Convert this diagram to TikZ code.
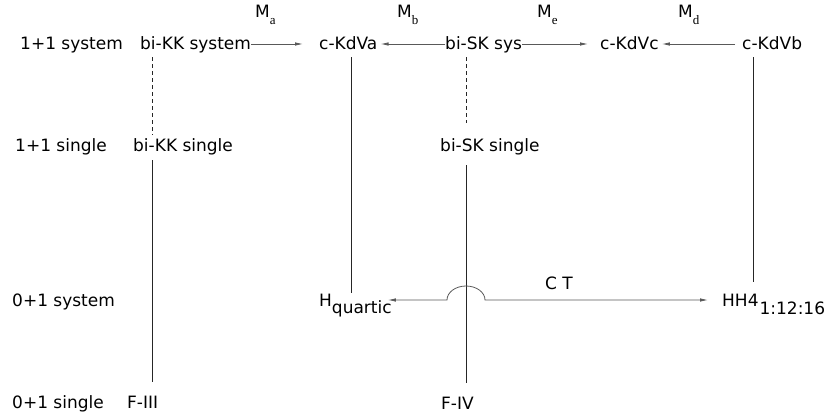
\documentclass[tikz,border=0pt]{standalone}
\usepackage{fontspec}
\setmainfont{DejaVu Sans}
\newfontfamily\subserif{Liberation Serif}
\usetikzlibrary{arrows.meta}
\begin{document}
\begin{tikzpicture}[x=1pt,y=-1pt,
  lbl/.style={anchor=base west, inner sep=0pt, text height=13pt, text depth=1pt, font=\fontsize{17}{20}\selectfont},
  mlbl/.style={anchor=base west, inner sep=0pt, font=\fontsize{17}{20}\selectfont},
  ln/.style={line width=0.8pt, draw=black!85},
  dsh/.style={ln, dash pattern=on 4pt off 3pt},
  arr/.style={line width=0.8pt, draw=black!65, -{Latex[length=8pt,width=3.5pt]}},
  arrb/.style={line width=0.8pt, draw=black!65, {Latex[length=8pt,width=3.5pt]}-{Latex[length=8pt,width=3.5pt]}}
]
\useasboundingbox (0,0) rectangle (827,417);
\newcommand{\msub}[1]{\raisebox{-7pt}{\subserif\fontsize{13}{13}\selectfont #1}}
% row labels
\node[lbl] (r1) at (20,50) {1+1 system};
\node[lbl] (r2) at (15,152) {1+1 single};
\node[lbl] (r3) at (12,306) {0+1 system};
\node[lbl] (r4) at (12,408) {0+1 single};
% top row
\node[lbl] (bikk) at (140,50) {bi-KK system};
\node[lbl] (kdva) at (319,50) {c-KdVa};
\node[lbl] (bisk) at (445,50) {bi-SK sys};
\node[lbl] (kdvc) at (600,50) {c-KdVc};
\node[lbl] (kdvb) at (742,50) {c-KdVb};
% M labels
\node[mlbl] (ma) at (255,18) {M\msub{a}};
\node[mlbl] (mb) at (397,18) {M\msub{b}};
\node[mlbl] (me) at (537,18) {M\msub{e}};
\node[mlbl] (md) at (678,18) {M\msub{d}};
% second row
\node[lbl] (bikks) at (133,152) {bi-KK single};
\node[lbl] (bisks) at (440,152) {bi-SK single};
% third row
\node[lbl] (hq) at (319,306) {H\raisebox{-7pt}{quartic}};
\node[lbl] (hh) at (722,306) {HH4\hspace{1pt}\raisebox{-8pt}{1:12:16}};
\node[mlbl] (ct) at (545,289) {C T};
% bottom row
\node[lbl] (f3) at (127,408) {F-III};
\node[lbl] (f4) at (441,409) {F-IV};
% x positions of vertical connectors
\coordinate (xkk) at (152,0);
\coordinate (xa) at (351,0);
\coordinate (xsk) at (466,0);
\coordinate (xb) at (753,0);
\coordinate (hopL) at (447,300);
% top arrows
\draw[arr, shorten >=16pt] (bikk.east) -- (kdva.west);
\draw[arr, shorten >=3pt] (bisk.west) -- (kdva.east);
\draw[arr, shorten >=12pt] (bisk.east) -- (kdvc.west);
\draw[arr, shorten <=7pt, shorten >=3pt] (kdvb.west) -- (kdvc.east);
% verticals
\draw[dsh, shorten <=6pt, shorten >=4pt] (bikk.south -| xkk) -- (bikks.north -| xkk);
\draw[ln, shorten <=7pt, shorten >=13pt] (bikks.south -| xkk) -- (f3.north -| xkk);
\draw[ln, shorten <=6pt] (kdva.south -| xa) -- (hq.north -| xa);
\draw[dsh, shorten <=6pt, shorten >=16pt] (bisk.south -| xsk) -- (bisks.north -| xsk);
\draw[ln, shorten <=12pt, shorten >=13pt] (bisks.south -| xsk) -- (f4.north -| xsk);
\draw[ln, shorten <=6pt, shorten >=11pt] (kdvb.south -| xb) -- (hh.north -| xb);
% CT connector with hop
\draw[arrb, shorten <=-4pt, shorten >=14pt] (hq.east) -- (hopL) arc[start angle=180, end angle=360, x radius=19, y radius=14] -- (hh.west);
\end{tikzpicture}
\end{document}
